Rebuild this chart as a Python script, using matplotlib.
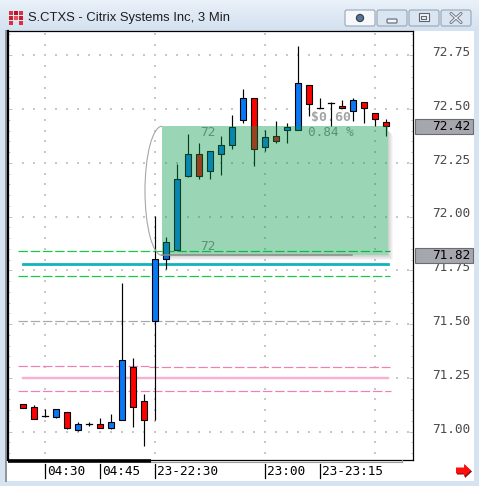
import matplotlib
matplotlib.use("Agg")
import matplotlib.pyplot as plt
import matplotlib.transforms as mtransforms
from matplotlib.patches import Rectangle, Arc, Polygon, FancyBboxPatch, Circle
import numpy as np

plt.rcParams['lines.scale_dashes'] = False

W, H = 479, 486

# ---- 3-minute OHLC bars ----
opens = [71.13, 71.113, 71.073, 71.070, 71.090, 71.009, 71.037, 71.036, 71.019, 71.053,
         71.302, 71.141, 71.513, 71.801, 71.843, 72.190, 72.290, 72.211, 72.290, 72.331,
         72.451, 72.550, 72.322, 72.373, 72.401, 72.401, 72.610, 72.505, 72.527, 72.514,
         72.490, 72.533, 72.482, 72.44]
highs = [71.13, 71.126, 71.106, 71.104, 71.090, 71.044, 71.045, 71.064, 71.082, 71.690,
         71.341, 71.174, 72.003, 71.907, 72.243, 72.384, 72.342, 72.304, 72.373, 72.471,
         72.592, 72.550, 72.403, 72.444, 72.435, 72.793, 72.610, 72.550, 72.534, 72.541,
         72.551, 72.533, 72.482, 72.452]
lows = [71.11, 71.060, 71.070, 71.065, 71.014, 71.005, 71.027, 71.019, 71.014, 71.053,
        71.023, 70.935, 71.056, 71.755, 71.843, 72.186, 72.176, 72.176, 72.195, 72.316,
        72.437, 72.235, 72.306, 72.344, 72.344, 72.401, 72.468, 72.505, 72.421, 72.503,
        72.446, 72.437, 72.423, 72.375]
closes = [71.11, 71.060, 71.073, 71.104, 71.019, 71.036, 71.037, 71.019, 71.045, 71.332,
          71.115, 71.053, 71.801, 71.881, 72.173, 72.290, 72.190, 72.304, 72.331, 72.417,
          72.550, 72.313, 72.371, 72.350, 72.415, 72.620, 72.522, 72.505, 72.527, 72.503,
          72.541, 72.503, 72.452, 72.42]

# time axis
time_tick_bars = [2, 7, 12, 22, 27]
time_tick_labels = ["04:30", "04:45", "23-22:30", "23:00", "23-23:15"]

# price axis
price_ticks = [71.00, 71.25, 71.50, 71.75, 72.00, 72.25, 72.50, 72.75]
price_labels = ["71.00", "71.25", "71.50", "71.75", "72.00", "72.25", "72.50", "72.75"]

# trade box (entry -> last)
entry_price = 71.82
last_price = 72.42
box_start_bar = 12.64
box_end_bar = 33.18
gain_text = "$0.60"
gain_pct_text = "0.84 %"

# horizontal level lines: price, start bar, end bar, colour, width(px), dashed
level_prices = [71.838, 71.780, 71.722, 71.513, 71.304, 71.299, 71.248, 71.188]
level_starts = [-0.45, 0.0, -0.45, -0.45, -0.45, 11.45, 0.0, -0.45]
level_ends = [33.36, 33.2, 33.36, 33.36, 11.45, 33.36, 33.2, 33.45]
level_colors = ["#10CC40", "#12B4BC", "#10CC40", "#A8A8A8", "#F080B4", "#F080B4", "#F8B0D4", "#F080B4"]
level_widths = [1.2, 2.8, 1.2, 1.2, 1.2, 1.2, 2.4, 1.2]
level_dashed = [True, False, True, True, True, True, False, True]

UP = "#0A78F5"
DOWN = "#FF0000"

fig = plt.figure(figsize=(W / 100, H / 100), dpi=100)
fig.patch.set_facecolor("#D6E4F2")

# ---------- window background ----------
bg = fig.add_axes([0, 0, 1, 1], zorder=0)
bg.set_xlim(0, W)
bg.set_ylim(H, 0)
bg.axis("off")
grad = np.linspace(0, 1, 64)[:, None]
top_c = np.array([0xEA, 0xF1, 0xF9]) / 255
bot_c = np.array([0xD3, 0xE1, 0xF0]) / 255
img = top_c[None, None, :] * (1 - grad[:, :, None]) + bot_c[None, None, :] * grad[:, :, None]
bg.imshow(img, extent=(0, W, 31, 0), aspect="auto", zorder=0)
bg.add_patch(Rectangle((5, 31), 469, 450, facecolor="white", edgecolor="none", zorder=1))
bg.plot([6.5, 6.5], [31, 481], color="#8C96A0", lw=1.4, zorder=2)

# title bar icon
for (x0, y0, c) in [(9, 11, "#E0303C"), (14, 11, "#B01828"), (19, 11, "#E0303C"),
                    (9, 16, "#C02030"), (14, 16, "#E85060"), (19, 16, "#C02030"),
                    (9, 21, "#E0303C"), (19, 21, "#E0303C")]:
    bg.add_patch(Rectangle((x0, y0), 4, 4, facecolor=c, edgecolor="none", zorder=2))
bg.text(28, 17.5, "S.CTXS - Citrix Systems Inc, 3 Min", fontsize=9.4,
        family="Liberation Sans", color="#1E1E1E", va="center", ha="left", zorder=3)

# title bar buttons
btn_x = [345, 377, 409, 441]
for k, bx in enumerate(btn_x):
    fc = "#F6F8FA" if k == 0 else "#D9E5F1"
    bg.add_patch(FancyBboxPatch((bx, 10), 30, 16, boxstyle="round,pad=0,rounding_size=2",
                                facecolor=fc, edgecolor="#97A6B6", lw=0.8, zorder=2))
bg.add_patch(Circle((360, 18), 3.6, facecolor="#5C7490", edgecolor="#2E3E50", lw=0.8, zorder=3))
bg.add_patch(FancyBboxPatch((387, 19), 10, 4, boxstyle="round,pad=0,rounding_size=1",
                            facecolor="#F4F6F8", edgecolor="#5C6470", lw=0.8, zorder=3))
bg.add_patch(Rectangle((419, 13.5), 10, 8, facecolor="#F4F6F8", edgecolor="#5C6470", lw=0.8, zorder=3))
bg.add_patch(Rectangle((421.5, 16), 5, 3, facecolor="#F4F6F8", edgecolor="#5C6470", lw=0.8, zorder=3))
bg.plot([451, 461], [13.5, 22.5], color="#6A7480", lw=2.2, solid_capstyle="round", zorder=3)
bg.plot([451, 461], [22.5, 13.5], color="#6A7480", lw=2.2, solid_capstyle="round", zorder=3)
bg.plot([451, 461], [13.5, 22.5], color="#F0F3F6", lw=0.9, solid_capstyle="round", zorder=4)
bg.plot([451, 461], [22.5, 13.5], color="#F0F3F6", lw=0.9, solid_capstyle="round", zorder=4)

# ---------- chart axes ----------
ax = fig.add_axes([8 / W, 1 - 460 / H, 405 / W, 429 / H], zorder=1)
ax.set_facecolor("white")
xmin, xmax = -1.364, 35.455
ymin, ymax = 70.8684, 72.8628
ax.set_xlim(xmin, xmax)
ax.set_ylim(ymin, ymax)
ppu = 429 / (ymax - ymin)  # pixels per price unit

for side in ["top", "right", "bottom"]:
    ax.spines[side].set_color("black")
    ax.spines[side].set_linewidth(0.9)
ax.spines["left"].set_color("black")
ax.spines["left"].set_linewidth(1.6)
ax.set_xticks([])
ax.set_yticks(price_ticks)
ax.set_yticks(np.round(np.arange(70.90, 72.86, 0.05), 2), minor=True)
ax.tick_params(axis="y", which="major", left=True, right=True, direction="in",
               length=3, width=0.7, color="#C4C4C4", labelleft=False, labelright=False)
ax.tick_params(axis="y", which="minor", left=True, right=True, direction="in",
               length=1.6, width=0.7, color="#C4C4C4")

# dotted grid
gx, gy = [], []
for p in price_ticks:
    for i in range(0, 36):
        gx.append(i)
        gy.append(p)
for b in [2, 12, 22, 32]:
    for p in np.arange(70.90, 72.86, 0.05):
        gx.append(b)
        gy.append(p)
ax.scatter(gx, gy, s=0.6, marker="s", color="#C8C8C8", linewidths=0, zorder=0.5)

# level lines
for p, x0, x1, c, w, d in zip(level_prices, level_starts, level_ends, level_colors,
                              level_widths, level_dashed):
    ls = (0, (6.8, 2.0)) if d else "-"
    ax.plot([x0, x1], [p, p], color=c, lw=w * 0.72, linestyle=ls, zorder=1)

# gain annotations (beneath candles)
off = lambda dx, dy: mtransforms.offset_copy(ax.transData, fig=fig, x=dx, y=dy, units="dots")
ax.text(28.0, last_price, gain_text, transform=off(0, 9), fontsize=9.5, weight="bold",
        family="DejaVu Sans Mono", color="#A4A4A4", ha="center", va="center", zorder=2)
ax.text(28.0, last_price, gain_pct_text, transform=off(0, -6), fontsize=9.2,
        family="DejaVu Sans Mono", color="#8E8E8E", ha="center", va="center", zorder=2)
ax.text(16.82, last_price, "72", transform=off(0, -6), fontsize=9.2,
        family="DejaVu Sans Mono", color="#8E8E8E", ha="center", va="center", zorder=2)
ax.text(16.82, entry_price, "72", transform=off(0, 9), fontsize=9.2,
        family="DejaVu Sans Mono", color="#8E8E8E", ha="center", va="center", zorder=2)

# candles
body_w = 0.5
for i, (o, h, l, c) in enumerate(zip(opens, highs, lows, closes)):
    ax.plot([i, i], [l, h], color="black", lw=0.85, zorder=3, solid_capstyle="butt")
    if abs(c - o) < 1e-9:
        ax.plot([i - 0.28, i + 0.28], [o, o], color="black", lw=0.9, zorder=3)
    else:
        ax.add_patch(Rectangle((i - body_w / 2, min(o, c)), body_w, abs(c - o),
                               facecolor=UP if c > o else DOWN, edgecolor="black",
                               lw=0.8, zorder=3))

# trade box with drop shadow
box_h = last_price - entry_price
for k in range(1, 6):
    a = 0.07
    ax.add_patch(Rectangle((box_end_bar + (k - 1) / 11, entry_price - k / ppu), 1 / 11,
                           box_h - 4 / ppu, facecolor="black", alpha=a * (6 - k) / 2,
                           edgecolor="none", zorder=3.5))
    ax.add_patch(Rectangle((box_start_bar + 3 / 11, entry_price - k / ppu),
                           box_end_bar - box_start_bar - 3 / 11 + (k - 1) / 11, 1 / ppu,
                           facecolor="black", alpha=a * (6 - k) / 2, edgecolor="none", zorder=3.5))
ax.add_patch(Rectangle((box_start_bar, entry_price), box_end_bar - box_start_bar, box_h,
                       facecolor=(10 / 255, 156 / 255, 76 / 255), alpha=0.41,
                       edgecolor="none", zorder=4))
ax.plot([box_start_bar, box_start_bar + 17.3], [entry_price, entry_price],
        color="#8A8A8A", lw=1.1, zorder=4.2)
ax.add_patch(Arc((box_start_bar, entry_price + box_h / 2), 3.1, box_h, theta1=90, theta2=270,
                 color="#A6A6A6", lw=0.8, zorder=4.1))

# right price labels
bl = mtransforms.blended_transform_factory(ax.transAxes, ax.transData)
lab_x = (470 - 8) / 405
for p, s in zip(price_ticks, price_labels):
    ax.text(lab_x, p, s, transform=bl + mtransforms.ScaledTranslation(0, 2.6 / 100, fig.dpi_scale_trans),
            fontsize=9.2, family="DejaVu Sans Mono", color="#4A4A4A",
            ha="right", va="center", clip_on=False)

# current / entry price flags
for p in [last_price, entry_price]:
    ax.add_patch(Rectangle(((415 - 8) / 405, p - 7.5 / ppu), (472.5 - 415) / 405, 15 / ppu,
                           transform=bl, facecolor="#A6A6AE", edgecolor="#6C6C70",
                           lw=0.8, clip_on=False, zorder=5))
    ax.text(lab_x, p, f"{p:.2f}", transform=bl, fontsize=9.2, family="DejaVu Sans Mono",
            color="black", ha="right", va="center", clip_on=False, zorder=6)

# time axis ticks and labels
bt = mtransforms.blended_transform_factory(ax.transData, ax.transAxes)
for b, s in zip(time_tick_bars, time_tick_labels):
    ax.plot([b, b], [-4 / 429, -18 / 429], transform=bt, color="black", lw=0.9, clip_on=False)
    ax.text(b, -11 / 429, s, transform=bt + mtransforms.ScaledTranslation(2 / 100, 0, fig.dpi_scale_trans),
            fontsize=9.2, family="DejaVu Sans Mono", color="black",
            ha="left", va="center", clip_on=False)

# ---------- overlay: scroll bar and navigation arrow ----------
ov = fig.add_axes([0, 0, 1, 1], zorder=2)
ov.set_xlim(0, W)
ov.set_ylim(H, 0)
ov.axis("off")
ov.patch.set_alpha(0)
ov.plot([8, 151], [460.5, 460.5], color="black", lw=2.6, solid_capstyle="butt")
ov.plot([151, 402], [462.3, 462.3], color="#9A9A9A", lw=0.8)
ov.plot([402, 402], [460, 462.3], color="#9A9A9A", lw=0.8)
arrow = np.array([[456, 467.5], [464, 467.5], [464, 464], [471, 470.5], [464, 477], [464, 473.5], [456, 473.5]])
ov.add_patch(Polygon(arrow + [1, 1], closed=True, facecolor="#7A1010", edgecolor="none"))
ov.add_patch(Polygon(arrow, closed=True, facecolor="#FF1010", edgecolor="none"))

fig.savefig("out.png", dpi=100)
